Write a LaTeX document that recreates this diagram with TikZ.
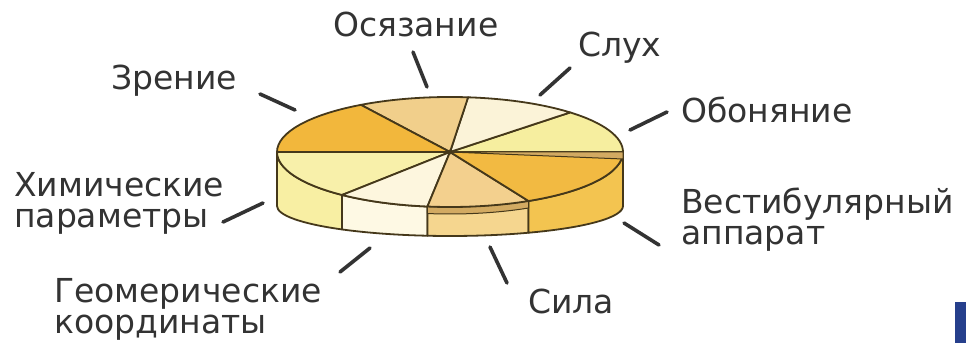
\documentclass[tikz,border=0pt]{standalone}
\usepackage{fontspec}
\setmainfont{DejaVu Sans}
\definecolor{outl}{HTML}{45381A}
\definecolor{txt}{HTML}{333333}
\definecolor{czren}{HTML}{F2B73C}
\definecolor{cosyaz}{HTML}{F1CF8B}
\definecolor{csluh}{HTML}{FBF3D8}
\definecolor{cobon}{HTML}{F6EE9F}
\definecolor{cvest}{HTML}{F2BA42}
\definecolor{cvestside}{HTML}{F3C450}
\definecolor{csila}{HTML}{F3D08E}
\definecolor{csilaside}{HTML}{F5D68F}
\definecolor{cband}{HTML}{D2AA62}
\definecolor{cgeom}{HTML}{FDF6DE}
\definecolor{cgeomside}{HTML}{FEF9E4}
\definecolor{chim}{HTML}{F8F0AA}
\definecolor{chimside}{HTML}{F8EFA3}
\definecolor{cblue}{HTML}{263F8C}
\newcommand\topsector[3]{%
  \filldraw[rim, fill=#3] (450,191) -- ([shift={(#1:173 and 55)}]450,191)
    arc[start angle=#1, end angle=#2, x radius=173, y radius=55] -- cycle;}
\newcommand\sideface[3]{%
  \filldraw[rim, fill=#3] ([shift={(#1:173 and 55)}]450,191)
    arc[start angle=#1, end angle=#2, x radius=173, y radius=55]
    -- ([shift={(#2:173 and 30)}]450,137)
    arc[start angle=#2, end angle=#1, x radius=173, y radius=30] -- cycle;}
\begin{document}
\begin{tikzpicture}[x=1pt,y=1pt,
  rim/.style={draw=outl, line width=1.8pt, line join=round},
  lead/.style={draw=txt, line width=3.6pt, line cap=round},
  lbl/.style={anchor=north west, inner sep=0pt, text=txt,
    font=\fontsize{33}{31}\selectfont, align=left}]
\useasboundingbox (0,0) rectangle (966,343);
% side faces
\sideface{180}{231.4}{chimside}
\sideface{231.4}{262.5}{cgeomside}
\sideface{262.5}{297}{csilaside}
\sideface{297}{360}{cvestside}
% band on top of Sila front
\filldraw[rim, line width=1pt, fill=cband] ([shift={(262.5:173 and 55)}]450,191)
  arc[start angle=262.5, end angle=297, x radius=173, y radius=55] -- ++(0,-7)
  arc[start angle=297, end angle=262.5, x radius=173, y radius=55] -- cycle;
% top sectors
\topsector{0}{46}{cobon}
\topsector{46}{84}{csluh}
\topsector{84}{121}{cosyaz}
\topsector{121}{180}{czren}
\topsector{180}{231.4}{chim}
\topsector{231.4}{262.5}{cgeom}
\topsector{262.5}{297}{csila}
\topsector{297}{360}{cvest}
\filldraw[rim, line width=1pt, fill=cband] (450,191) -- (623,191) -- (623,184) -- cycle;
\fill[outl] (450,191) circle (2.5);
% labels
\node[lbl] (osyaz) at (333,331) {Осязание};
\node[lbl] (sluh) at (578,311) {Слух};
\node[lbl] (zren) at (111,278) {Зрение};
\node[lbl] (obon) at (681,246) {Обоняние};
\node[lbl] (him) at (14,171) {Химические\\параметры};
\node[lbl] (vest) at (681,155) {Вестибулярный\\аппарат};
\node[lbl] (geom) at (54,65) {Геомерические\\координаты};
\node[lbl] (sila) at (528,54) {Сила};
% leader lines
\coordinate (a1) at (413,291); \coordinate (b1) at (427,256);
\coordinate (a2) at (570,275); \coordinate (b2) at (540,248);
\coordinate (a3) at (260,249); \coordinate (b3) at (295,233);
\coordinate (a4) at (667,231); \coordinate (b4) at (630,213);
\coordinate (a5) at (223,121); \coordinate (b5) at (263,140);
\coordinate (a6) at (659,98);  \coordinate (b6) at (624,120);
\coordinate (a7) at (340,71);  \coordinate (b7) at (370,95);
\coordinate (a8) at (507,60);  \coordinate (b8) at (490,96);
\foreach \i in {1,...,8} \draw[lead] (a\i) -- (b\i);
% blue bar at the edge
\fill[cblue] (955,0) rectangle (966,41);
\end{tikzpicture}
\end{document}
